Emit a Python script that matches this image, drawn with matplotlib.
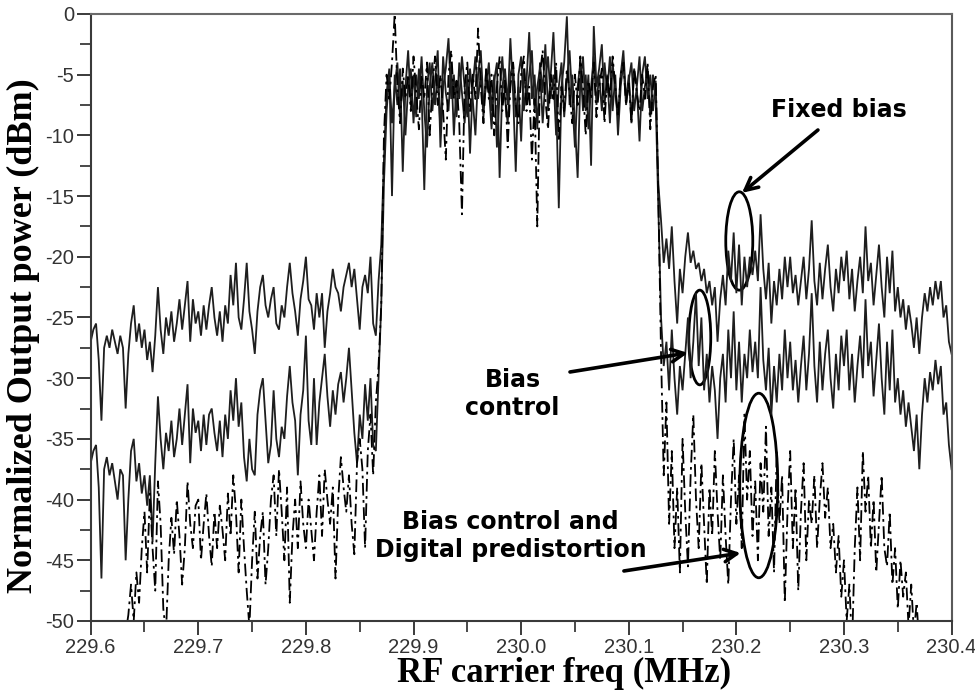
import numpy as np
import matplotlib
matplotlib.use("Agg")
import matplotlib.pyplot as plt
from matplotlib.patches import Ellipse
from matplotlib.ticker import MultipleLocator, FormatStrFormatter

plt.rcParams['axes.unicode_minus'] = False

# ---------------- data ----------------
# frequency segments (MHz): lower sideband, in-band, upper sideband
lo_band = (229.600, 229.870)
in_band = (229.8725, 230.1275)
hi_band = (230.130, 230.400)

# Fixed bias (solid)
fixed_lo = [-27.0, -26.0, -25.5, -28.5, -33.5, -27.5, -26.5, -27.5, -26.0, -27.0,
            -28.0, -26.5, -27.5, -32.5, -28.0, -25.5, -24.0, -27.0, -25.5, -27.5,
            -26.0, -28.5, -27.0, -29.5, -26.5, -22.5, -26.0, -28.0, -25.0, -26.5,
            -24.5, -27.0, -25.5, -23.5, -26.0, -24.0, -22.0, -27.0, -23.5, -25.5,
            -24.5, -26.5, -24.0, -26.0, -24.0, -22.5, -25.0, -26.5, -24.5, -27.0,
            -24.0, -25.5, -21.5, -24.0, -20.5, -25.0, -26.0, -23.5, -20.5, -24.5,
            -26.0, -28.0, -24.5, -22.5, -21.5, -24.0, -25.0, -23.5, -22.5, -25.5,
            -26.0, -24.0, -25.0, -22.5, -20.5, -23.0, -24.5, -26.5, -23.5, -22.0,
            -20.0, -23.5, -24.0, -26.0, -23.0, -25.0, -23.0, -27.5, -24.5, -23.0,
            -21.0, -22.5, -23.0, -24.5, -22.5, -21.5, -20.5, -22.5, -21.0, -23.5,
            -26.0, -22.5, -21.5, -23.0, -20.0, -25.5, -26.5, -22.0, -19.0]
fixed_in = [-12, -6.5, -4.5, -15, -5, -7.5, -4.5, -13, -6, -3, -7.5, -5, -8.5, -4.5,
            -6.5, -14.5, -6, -4, -8, -5.5, -3, -11, -6, -4.5, -2, -7, -5, -8.5, -4,
            -6.5, -9, -5, -11.5, -6, -3.5, -7, -5, -8.5, -4.5, -6, -9.5, -5.5, -4,
            -13.5, -6, -4.5, -7.5, -2, -6.5, -13, -5, -3.5, -8, -5.5, -1.5, -7, -5,
            -9.5, -4, -6.5, -2.5, -8, -5, -1.5, -7, -16, -6, -4, -0.2, -7.5, -5, -9,
            -13.5, -5.5, -3.5, -8, -5, -12.5, -1, -6, -4.5, -2.5, -7.5, -5, -9, -4,
            -6.5, -8.5, -5, -3, -7, -5.5, -4, -8, -6, -10.5, -5, -3.5, -7, -5, -8,
            -5.5, -14]
fixed_hi = [-17, -20.5, -18.5, -21, -17.5, -22, -25.5, -21, -23, -20, -18, -20.5,
            -19.5, -21, -20.5, -22, -21, -23, -22, -24, -22.5, -27, -23.5, -21.5,
            -24, -19.5, -22, -18, -23, -19, -24, -20, -22.5, -20, -21.5, -19.5, -22,
            -16.5, -21, -23.5, -20.5, -25.5, -22, -24, -21, -23.5, -20, -22.5, -20,
            -23, -21.5, -24, -22, -20, -23.5, -21, -17, -22, -24, -20.5, -23.5, -21,
            -19, -22.5, -24.5, -21, -23, -20, -22, -19.5, -23.5, -21, -24.5, -22,
            -20, -23, -17.5, -22, -20.5, -24, -21.5, -19, -22.5, -25, -20, -23,
            -19.5, -24.5, -22.5, -25, -23.5, -26, -24, -25.5, -27.5, -25, -28, -25,
            -23, -24.5, -22.5, -24, -22, -23.5, -22, -25, -24, -27, -28]

# Bias control (solid)
bias_lo = [-37.0, -36.0, -35.5, -39.0, -46.5, -37.5, -36.5, -38.0, -37.0, -38.5,
           -40.0, -37.5, -38.0, -45.0, -40.0, -36.0, -35.0, -38.5, -37.0, -39.5,
           -38.0, -40.5, -38.0, -43.5, -37.0, -31.5, -35.0, -37.5, -34.5, -36.0,
           -33.5, -36.5, -35.0, -32.5, -35.5, -33.0, -30.5, -37.0, -32.5, -34.5,
           -33.5, -36.0, -33.0, -35.5, -33.0, -32.5, -34.5, -36.0, -33.5, -36.5,
           -33.0, -35.0, -31.0, -33.5, -30.0, -34.0, -32.0, -36.5, -38.5, -35.0,
           -37.5, -38.0, -33.0, -31.0, -30.0, -33.5, -37.0, -35.5, -31.0, -35.0,
           -36.5, -34.0, -35.0, -31.5, -29.0, -32.0, -33.5, -38.0, -33.0, -31.0,
           -26.5, -33.5, -35.5, -30.0, -35.5, -32.0, -30.0, -28.0, -31.5, -34.0,
           -31.0, -33.0, -30.5, -29.5, -32.0, -30.0, -27.5, -31.0, -34.5, -37.0,
           -33.0, -35.0, -30.5, -33.5, -30.0, -35.5, -36.0, -30.0, -24.0]
bias_in = [-14, -8, -5, -9, -6, -4, -8.5, -5.5, -10, -6, -4.5, -9, -5, -7, -3.5, -8,
           -11, -6, -4, -7.5, -5, -9.5, -3.5, -6.5, -8, -4, -10, -5.5, -7, -3.5, -6,
           -8.5, -4.5, -7, -10, -5, -3, -7.5, -6, -4, -8, -5, -11, -6.5, -3.5, -7,
           -9, -5, -4, -8.5, -6, -10.5, -4.5, -7, -5, -3, -8, -6, -4.5, -9, -5.5,
           -3.5, -7, -5, -10, -6, -4, -8.5, -5.5, -3, -7, -11, -6, -4, -8, -5, -9.5,
           -6, -3.5, -7.5, -5, -8, -4, -6.5, -3.5, -8, -5, -10, -6, -4, -7.5, -5, -9,
           -4.5, -6, -3.5, -8, -6, -4.5, -8.5, -5, -7, -16]
bias_hi = [-25, -29, -27, -31, -26, -30, -33, -29, -31, -28, -25, -30, -27, -23,
           -29, -25, -31, -28, -32, -29, -31, -35, -30, -28, -32, -26, -30, -24.5,
           -31, -27, -32, -28, -30, -26, -29.5, -27, -30, -22.5, -28.5, -31, -27.5,
           -33, -29, -32, -28, -31, -26, -30, -27, -31, -28.5, -32, -29, -26.5, -31,
           -28, -23, -29, -32, -27, -31, -28, -26, -30, -32.5, -28, -31, -26.5, -29,
           -26, -31, -28, -32, -29, -26.5, -30, -23.5, -29, -27, -31.5, -28.5, -25.5,
           -30, -33, -27, -31, -26, -32, -30, -33, -31, -34, -32, -34, -36, -33,
           -37.5, -33, -30, -32, -29.5, -31, -28.5, -30.5, -29, -33, -32, -35.5,
           -37.5]

# Bias control and digital predistortion (dash-dot)
dpd_lo = [-54, -56, -53, -55, -57, -54, -52, -55, -53, -56, -54, -52, -55, -51,
          -49.5, -47, -50, -46, -48.5, -44, -41, -46, -39.5, -44, -47.5, -38.5, -42,
          -49, -51, -45, -41.5, -44.5, -40, -43, -47, -44, -38.5, -42, -44, -40.5,
          -40, -45, -42, -39.5, -43, -45.5, -41, -44, -40.5, -42.5, -45, -39.5, -43,
          -38, -41, -46, -40, -44, -47.5, -50.5, -45, -41, -46.5, -43, -41, -47, -44,
          -40, -38, -43, -37.5, -41, -45, -39, -48.5, -43, -40, -44, -38.5, -42, -44,
          -40, -42.5, -45, -41, -38, -43, -37.5, -40, -42, -39, -46.5, -40, -36.5,
          -39, -41, -38, -42, -44.5, -37, -35, -37.5, -44, -36, -33, -38, -32, -29,
          -24]
dpd_in = [-10, -5, -7, -4, 0, -6, -9, -4.5, -7, -5, -8, -3.5, -6.5, -9.5, -5, -7, -4,
          -10, -6, -3.5, -7.5, -5, -8, -12, -5, -3, -7, -5.5, -9, -16.5, -6, -4, -8,
          -5, -7, -1.2, -6, -9, -4.5, -7, -5, -10, -6, -3.5, -8, -5.5, -11, -6, -4,
          -7.5, -9, -5, -3.5, -8, -6, -12, -7, -17.5, -5, -3, -7, -9.5, -5, -7, -4,
          -10.5, -6, -8, -4.5, -6.5, -9, -5, -7.5, -3.5, -6, -10, -5.5, -7, -4, -8.5,
          -6, -4.5, -9, -5, -7, -3.5, -6, -8.5, -5, -4, -7.5, -5.5, -9, -4.5, -6.5,
          -8, -5, -7, -4, -9.5, -6, -5, -15]
dpd_hi = [-28, -38, -32, -42, -36, -44, -39, -46, -35, -41, -45.5, -38, -33, -40, -44,
          -37, -42, -47, -39, -43, -36, -41, -45, -38, -43, -47, -40, -35, -42, -38,
          -44, -33, -40, -36, -43, -38.5, -45, -37, -41, -34, -43, -39, -46, -36,
          -42, -38, -48.5, -41, -36, -44, -39, -47.5, -41, -37, -45, -40, -42, -38,
          -44, -40, -37, -41.5, -39, -44, -42, -46, -43, -48, -45, -50, -47, -52,
          -44, -39, -45, -36, -41, -38, -44, -40, -46, -42, -38, -44, -45.5, -41,
          -47, -44, -49, -45, -48, -46, -50.5, -47, -51, -48.5, -52, -55, -56, -57,
          -56, -58, -57, -56, -58, -57, -56, -58, -57]

xticks = [229.6, 229.7, 229.8, 229.9, 230.0, 230.1, 230.2, 230.3, 230.4]
yticks = [0, -5, -10, -15, -20, -25, -30, -35, -40, -45, -50]


def build(lo, mid, hi):
    x = np.concatenate([np.linspace(*lo_band, len(lo)),
                        np.linspace(*in_band, len(mid)),
                        np.linspace(*hi_band, len(hi))])
    y = np.concatenate([lo, mid, hi])
    return x, y


# ---------------- figure ----------------
fig = plt.figure(figsize=(9.75, 6.93), dpi=100)
ax = fig.add_axes([0.093, 0.1039, 0.883, 0.876])

line_col = '#1e1e1e'
x1, y1 = build(fixed_lo, fixed_in, fixed_hi)
x2, y2 = build(bias_lo, bias_in, bias_hi)
x3, y3 = build(dpd_lo, dpd_in, dpd_hi)
ax.plot(x1, y1, color=line_col, lw=1.3, solid_joinstyle='miter')
ax.plot(x2, y2, color=line_col, lw=1.3, solid_joinstyle='miter')
ax.plot(x3, y3, color='black', lw=1.3, linestyle=(0, (7, 2.5, 1.5, 2.5)))

ax.set_xlim(229.6, 230.4)
ax.set_ylim(-50, 0)
ax.set_xticks(xticks)
ax.set_yticks(yticks)
ax.xaxis.set_minor_locator(MultipleLocator(0.05))
ax.yaxis.set_minor_locator(MultipleLocator(2.5))
ax.xaxis.set_major_formatter(FormatStrFormatter('%.1f'))
ax.yaxis.set_major_formatter(FormatStrFormatter('%d'))

spine_col = '#3a3a3a'
for s in ax.spines.values():
    s.set_color(spine_col)
    s.set_linewidth(1.5)
ax.spines['top'].set_color('#6a6a6a')
ax.spines['right'].set_color('#5a5a5a')
ax.tick_params(which='major', direction='out', length=10, width=1.4,
               color=spine_col, labelsize=14.5, labelcolor='#333333', pad=2)
ax.tick_params(which='minor', direction='out', length=8, width=1.3, color=spine_col)
for lab in ax.get_xticklabels() + ax.get_yticklabels():
    lab.set_family('Liberation Sans')

ax.set_xlabel('RF carrier freq (MHz)', family='Liberation Serif', fontweight='bold',
              fontsize=25)
ax.set_ylabel('Normalized Output power (dBm)', family='Liberation Serif',
              fontweight='bold', fontsize=26)
ax.xaxis.label.set_va('center')
ax.yaxis.label.set_va('center')
ax.xaxis.set_label_coords(0.55, -0.0865)
ax.yaxis.set_label_coords(-0.0775, 0.47)

# ---------------- annotations ----------------
ann_font = dict(family='DejaVu Sans', fontweight='bold', fontsize=17, color='black')
ax.text(230.295, -7.9, 'Fixed bias', ha='center', va='center', **ann_font)
ax.text(229.992, -31.3, 'Bias\ncontrol', ha='center', va='center',
        linespacing=1.2, **ann_font)
ax.text(229.990, -43.0, 'Bias control and\nDigital predistortion', ha='center',
        va='center', linespacing=1.2, **ann_font)

ell_kw = dict(fill=False, edgecolor='black', lw=2.0)
ax.add_patch(Ellipse((230.2027, -18.7), 0.0251, 8.1, **ell_kw))
ax.add_patch(Ellipse((230.166, -26.65), 0.0204, 7.8, **ell_kw))
ax.add_patch(Ellipse((230.2208, -38.84), 0.0353, 15.2, **ell_kw))

arr_kw = dict(arrowstyle='->,head_length=0.9,head_width=0.45', lw=2.6, color='black',
              shrinkA=0, shrinkB=0)
ax.annotate('', xy=(230.2052, -14.74), xytext=(230.2758, -9.56), arrowprops=arr_kw)
ax.annotate('', xy=(230.1550, -27.92), xytext=(230.0454, -29.49), arrowprops=arr_kw)
ax.annotate('', xy=(230.2040, -44.40), xytext=(230.0955, -45.88), arrowprops=arr_kw)

fig.savefig('out.png', dpi=100)
